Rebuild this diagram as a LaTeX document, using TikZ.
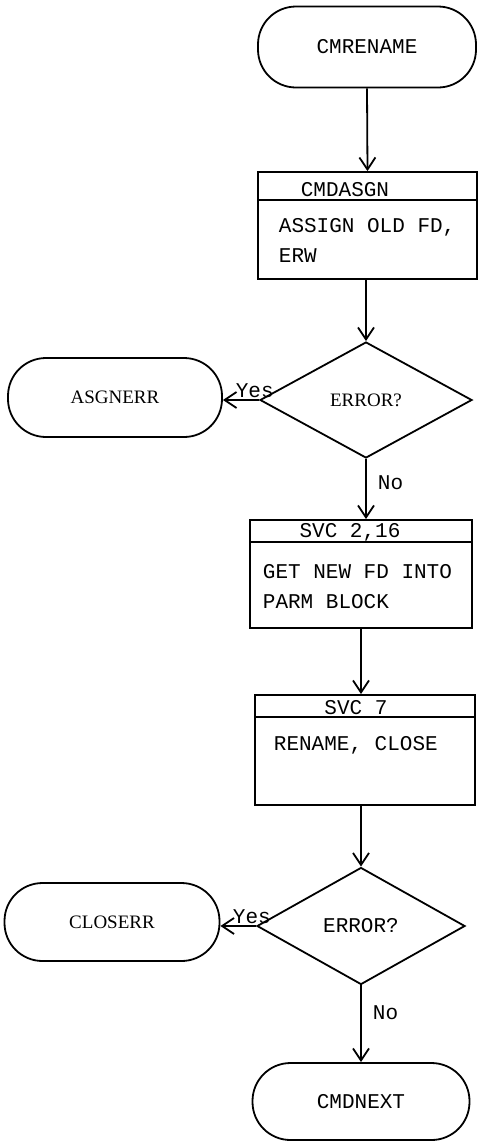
\documentclass[tikz,border=0pt]{standalone}
\usepackage{fontspec}
\setmainfont{Liberation Serif}
\setmonofont{Liberation Mono}
\usetikzlibrary{positioning, shapes.geometric, arrows.meta}

\begin{document}
\begin{tikzpicture}[x=0.5pt, y=-0.5pt, >={Straight Barb[length=6pt,width=8pt]}, line width=0.9pt,
    every node/.style={font=\ttfamily\fontsize{10.5}{15}\selectfont},
    terminal/.style={draw, rectangle, rounded corners=19pt, inner sep=0pt},
    errterm/.style={terminal, font=\rmfamily\fontsize{9.5}{12}\selectfont},
    procbox/.style={draw, rectangle, inner sep=0pt},
    decision/.style={draw, diamond, inner sep=0pt},
    bodytext/.style={anchor=west, align=left, inner sep=0pt},
    lbl/.style={inner sep=1.5pt}]
    \useasboundingbox (0,0) rectangle (478,1142);

    \node[terminal, minimum width=109pt, minimum height=40.5pt] (cmrename) at (367,47) {CMRENAME};

    % CMDASGN box with header
    \node[procbox, minimum width=109.5pt, minimum height=53.5pt] (asgn) at (367.5,225.5) {};
    \draw (asgn.north west) ++(0,29) -- ++(219,0);
    \node (asgnhdr) at (345,190) {CMDASGN};
    \node[bodytext] (asgnbody) at (278,240) {ASSIGN OLD FD,\\ERW};

    \node[decision, minimum width=106pt, minimum height=58pt, font=\rmfamily\fontsize{9.5}{12}\selectfont] (err1) at (366,400) {ERROR?};
    \node[errterm, minimum width=107pt, minimum height=39.5pt] (asgnerr) at (115,397.5) {ASGNERR};

    % SVC 2,16 box with header
    \node[procbox, minimum width=111pt, minimum height=54pt] (getfd) at (361,574) {};
    \draw (getfd.north west) ++(0,23) -- ++(222,0);
    \node (getfdhdr) at (350,532) {SVC 2,16};
    \node[bodytext] (getfdbody) at (262,587) {GET NEW FD INTO\\PARM BLOCK};

    % SVC 7 box with header
    \node[procbox, minimum width=110pt, minimum height=55pt] (rename) at (365,750) {};
    \draw (rename.north west) ++(0,23) -- ++(220,0);
    \node (renamehdr) at (356,708) {SVC 7};
    \node[bodytext] (renamebody) at (273,745) {RENAME, CLOSE};

    \node[decision, minimum width=104pt, minimum height=58.5pt] (err2) at (361,926) {ERROR?};
    \node[errterm, minimum width=107.5pt, minimum height=39pt] (closerr) at (112,922) {CLOSERR};
    \node[terminal, minimum width=108.5pt, minimum height=38.5pt] (cmdnext) at (361,1101.5) {CMDNEXT};

    % CMRENAME to CMDASGN
    \draw[->] (cmrename.south) -- (asgn.north);

    % CMDASGN to first test
    \draw[->] (asgn.south -| err1.north) -- (err1.north);

    % first test: Yes to ASGNERR, No to SVC 2,16
    \draw[->] (err1.west) -- node[lbl, anchor=base, yshift=1.5pt, pos=0.12] {Yes} (err1.west -| asgnerr.east);
    \draw[->] (err1.south) -- node[lbl, right=4pt, pos=0.4] {No} (err1.south |- getfd.north);

    % SVC 2,16 to SVC 7
    \draw[->] (getfd.south) -- (getfd.south |- rename.north);

    % SVC 7 to second test
    \draw[->] (rename.south -| err2.north) -- (err2.north);

    % second test: Yes to CLOSERR, No to CMDNEXT
    \draw[->] (err2.west) -- node[lbl, anchor=base, yshift=1.5pt, pos=0.12] {Yes} (err2.west -| closerr.east);
    \draw[->] (err2.south) -- node[lbl, right=4pt, pos=0.36] {No} (err2.south |- cmdnext.north);
\end{tikzpicture}
\end{document}
